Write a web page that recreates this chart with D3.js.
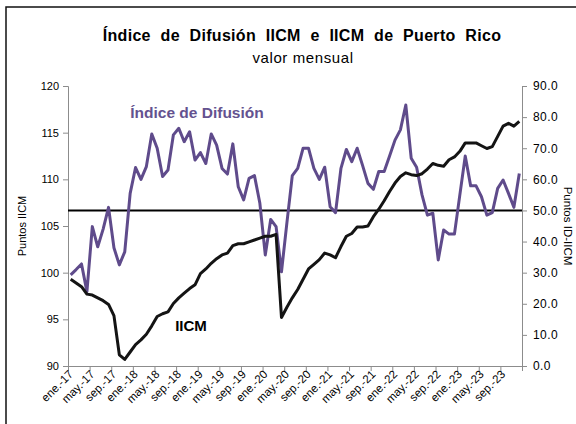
<!DOCTYPE html>
<html>
<head>
  <meta charset="utf-8">
  <script src="https://d3js.org/d3.v7.min.js"></script>
  <style>
    body { margin: 0; background: #fff; font-family: "Liberation Sans", Arial, sans-serif; }
    .axis path, .axis line { stroke: #8c8c8c; }
    .axis text { fill: #000; font-size: 11px; font-family: "Liberation Sans", Arial, sans-serif; }
    .axis.right text { font-size: 12px; letter-spacing: 0.4px; }
  </style>
</head>
<body>
<svg id="chart" width="576" height="424"></svg>
<script>
  // ----- data -----
  const years = [2017, 2018, 2019, 2020, 2021, 2022, 2023];
  const monthNames = ["ene.", "feb.", "mar.", "abr.", "may.", "jun.", "jul.", "ago.", "sep.", "oct.", "nov.", "dic."];

  // IICM (left axis)
  const iicm = [
    99.3, 98.9, 98.5, 97.7, 97.6, 97.3, 97.0, 96.6, 95.4, 91.2, 90.7, 91.5,
    92.3, 92.8, 93.4, 94.3, 95.3, 95.6, 95.8, 96.7, 97.3, 97.8, 98.3, 98.7,
    99.9, 100.4, 101.0, 101.5, 101.9, 102.1, 102.9, 103.1, 103.1, 103.3, 103.5, 103.7,
    103.9, 103.9, 104.1, 95.2, 96.3, 97.3, 98.2, 99.3, 100.4, 100.9, 101.4, 102.1,
    101.9, 101.6, 102.8, 103.9, 104.2, 104.9, 104.9, 105.0, 106.0, 106.8, 107.7, 108.7,
    109.6, 110.3, 110.7, 110.5, 110.4, 110.6, 111.1, 111.7, 111.5, 111.4, 112.1, 112.4,
    113.0, 113.9, 113.9, 113.9, 113.6, 113.3, 113.5, 114.6, 115.7, 116.0, 115.7, 116.2
  ];

  // Indice de Difusion (right axis)
  const difusion = [
    29.3, 31.0, 32.8, 23.9, 44.8, 38.3, 44.0, 51.0, 38.0, 32.5, 36.7, 55.5,
    63.8, 60.0, 64.1, 74.6, 70.0, 60.9, 63.0, 74.3, 76.4, 72.1, 75.3, 66.2,
    68.6, 65.1, 74.6, 71.0, 63.5, 61.7, 71.4, 57.6, 53.4, 60.3, 61.2, 52.3,
    35.7, 47.1, 44.8, 30.3, 46.0, 61.2, 63.5, 70.0, 70.0, 63.5, 60.0, 63.9,
    51.2, 49.3, 63.5, 69.6, 65.7, 70.0, 64.5, 58.7, 56.8, 62.5, 62.5, 67.5,
    72.6, 75.9, 83.9, 66.8, 63.9, 55.0, 48.5, 49.1, 34.1, 43.7, 42.4, 42.4,
    55.0, 67.5, 57.9, 57.9, 54.4, 48.5, 49.3, 57.1, 59.8, 55.5, 51.0, 61.9
  ];

  const refLevel = 50;
  const leftTicks = [90, 95, 100, 105, 110, 115, 120];
  const rightTicks = [0, 10, 20, 30, 40, 50, 60, 70, 80, 90];

  const categories = [];
  years.forEach(y => monthNames.forEach(m => categories.push(m + "-" + String(y).slice(2))));

  // ----- layout -----
  const svg = d3.select("#chart");
  const plotLeft = 68, plotRight = 522, plotTop = 86, plotBottom = 366;

  const x = d3.scaleBand().domain(categories).range([plotLeft, plotRight]).padding(0);
  const xEdge = d3.scaleLinear().domain([0, categories.length]).range([plotLeft, plotRight]);
  const yL = d3.scaleLinear().domain([90, 120]).range([plotBottom, plotTop]);
  const yR = d3.scaleLinear().domain([0, 90]).range([plotBottom, plotTop]);
  const cx = d => x(d) + x.bandwidth() / 2;

  // frame
  svg.append("rect")
    .attr("x", 6).attr("y", 7).attr("width", 580).attr("height", 430)
    .attr("fill", "none").attr("stroke", "#111").attr("stroke-width", 1.5);

  // titles
  svg.append("text")
    .attr("x", 302).attr("y", 41)
    .attr("text-anchor", "middle")
    .attr("font-size", "16px").attr("font-weight", "bold")
    .attr("word-spacing", "5px").attr("letter-spacing", "0.3px")
    .text("Índice de Difusión IICM e IICM de Puerto Rico");

  svg.append("text")
    .attr("x", 303).attr("y", 63)
    .attr("text-anchor", "middle")
    .attr("font-size", "15px").attr("letter-spacing", "0.6px")
    .text("valor mensual");

  // axes
  svg.append("g").attr("class", "axis")
    .attr("transform", `translate(${plotLeft},0)`)
    .call(d3.axisLeft(yL).tickValues(leftTicks).tickSize(5).tickPadding(4));

  svg.append("g").attr("class", "axis right")
    .attr("transform", `translate(${plotRight},0)`)
    .call(d3.axisRight(yR).tickValues(rightTicks).tickSize(5).tickPadding(6).tickFormat(d3.format(".1f")));

  svg.append("g").attr("class", "axis")
    .attr("transform", `translate(0,${plotBottom})`)
    .call(d3.axisBottom(xEdge).tickValues(d3.range(0, categories.length + 1, 4)).tickSize(5).tickFormat(""));

  svg.selectAll(".xlabel")
    .data(categories.filter((d, i) => i % 4 === 0))
    .join("text")
    .attr("class", "xlabel")
    .attr("font-size", "11.5px")
    .attr("text-anchor", "end")
    .attr("transform", d => `translate(${cx(d) + 3},${plotBottom + 9}) rotate(-45)`)
    .text(d => d);

  // axis titles
  svg.append("text")
    .attr("transform", "translate(26,226) rotate(-90)")
    .attr("text-anchor", "middle").attr("font-size", "11px")
    .text("Puntos IICM");

  svg.append("text")
    .attr("transform", "translate(564,226) rotate(90)")
    .attr("text-anchor", "middle").attr("font-size", "11.5px")
    .text("Puntos ID-IICM");

  // reference line at 50
  svg.append("line")
    .attr("x1", plotLeft).attr("x2", plotRight)
    .attr("y1", yR(refLevel)).attr("y2", yR(refLevel))
    .attr("stroke", "#000").attr("stroke-width", 2);

  // lines
  const lineL = d3.line().x((d, i) => cx(categories[i])).y(d => yL(d));
  const lineR = d3.line().x((d, i) => cx(categories[i])).y(d => yR(d));

  svg.append("path")
    .datum(difusion)
    .attr("d", lineR)
    .attr("fill", "none").attr("stroke", "#5f4b8b")
    .attr("stroke-width", 3).attr("stroke-linejoin", "round");

  svg.append("path")
    .datum(iicm)
    .attr("d", lineL)
    .attr("fill", "none").attr("stroke", "#141414")
    .attr("stroke-width", 3).attr("stroke-linejoin", "round");

  // series labels
  svg.append("text")
    .attr("x", 197).attr("y", 118)
    .attr("text-anchor", "middle")
    .attr("font-size", "15.5px").attr("font-weight", "bold")
    .attr("fill", "#64528f")
    .text("Índice de Difusión");

  svg.append("text")
    .attr("x", 191).attr("y", 331)
    .attr("text-anchor", "middle")
    .attr("font-size", "15px").attr("font-weight", "bold")
    .attr("fill", "#000")
    .text("IICM");
</script>
</body>
</html>
